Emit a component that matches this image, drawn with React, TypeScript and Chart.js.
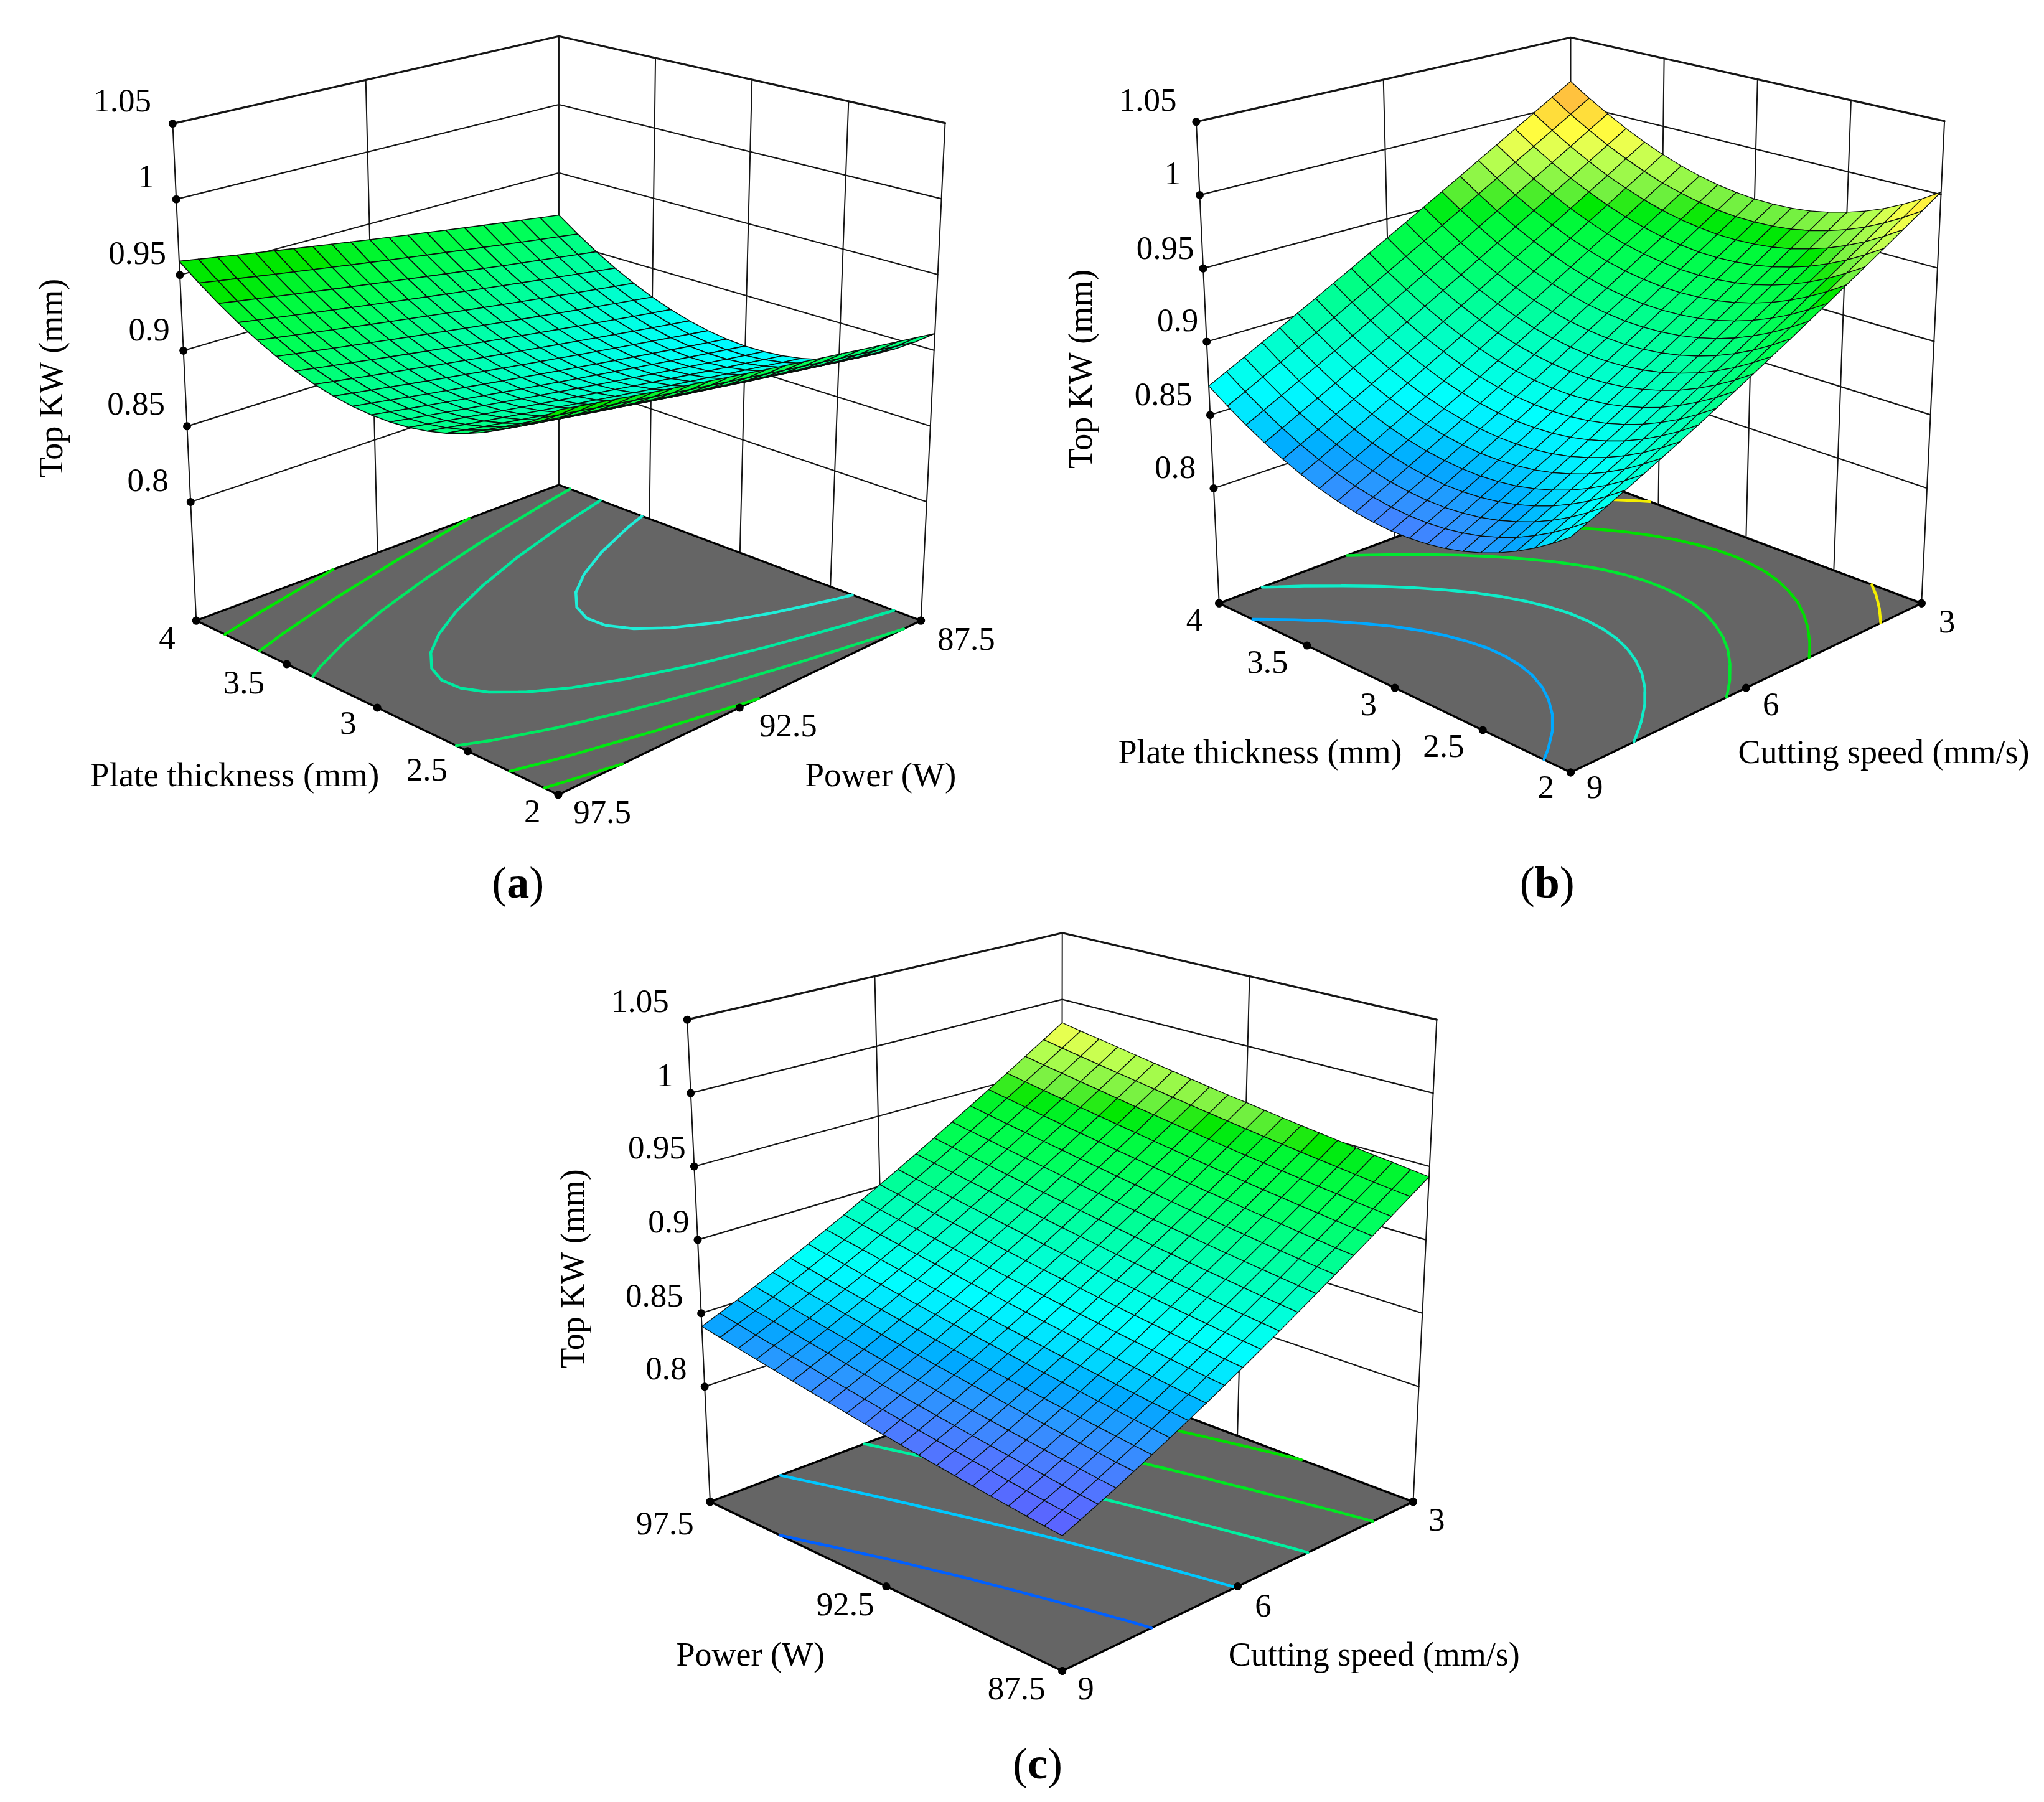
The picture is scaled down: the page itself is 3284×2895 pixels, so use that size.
import React, { useEffect, useRef } from "react";
import { Chart, registerables } from "chart.js";

Chart.register(...registerables);

// ---------- axis ticks ----------
const zTicks = [0.8, 0.85, 0.9, 0.95, 1, 1.05];
const zFloor = 0.7216;
const thicknessTicks = [2, 2.5, 3, 3.5, 4];
const powerTicksDown = [97.5, 92.5, 87.5];
const powerTicksUp = [87.5, 92.5, 97.5];
const speedTicks = [9, 6, 3];

// ---------- surface heights, in 1e-4 mm (rows: first axis, columns: second axis) ----------
const surfaceA = [
[9511,9491,9471,9451,9431,9411,9391,9371,9351,9331,9311,9291,9271,9251,9231,9211,9191,9171,9151,9131,9111],
[9420,9400,9380,9360,9340,9320,9300,9280,9260,9240,9220,9200,9180,9160,9140,9120,9100,9080,9060,9040,9020],
[9339,9319,9299,9279,9259,9239,9219,9199,9179,9159,9139,9119,9099,9079,9059,9039,9019,8999,8979,8959,8939],
[9268,9248,9228,9208,9188,9168,9148,9128,9108,9088,9068,9048,9028,9008,8988,8968,8948,8928,8908,8888,8868],
[9207,9187,9167,9147,9127,9107,9087,9067,9047,9027,9007,8987,8967,8947,8927,8907,8887,8867,8847,8827,8807],
[9156,9136,9116,9096,9076,9056,9036,9016,8996,8976,8956,8936,8916,8896,8876,8856,8836,8816,8796,8776,8756],
[9115,9095,9075,9055,9035,9015,8995,8975,8955,8935,8915,8895,8875,8855,8835,8815,8795,8775,8755,8735,8715],
[9084,9064,9044,9024,9004,8984,8964,8944,8924,8904,8884,8864,8844,8824,8804,8784,8764,8744,8724,8704,8684],
[9063,9043,9023,9003,8983,8963,8943,8923,8903,8883,8863,8843,8823,8803,8783,8763,8743,8723,8703,8683,8663],
[9052,9032,9012,8992,8972,8952,8932,8912,8892,8872,8852,8832,8812,8792,8772,8752,8732,8712,8692,8672,8652],
[9051,9031,9011,8991,8971,8951,8931,8911,8891,8871,8851,8831,8811,8791,8771,8751,8731,8711,8691,8671,8651],
[9060,9040,9020,9000,8980,8960,8940,8920,8900,8880,8860,8840,8820,8800,8780,8760,8740,8720,8700,8680,8660],
[9079,9059,9039,9019,8999,8979,8959,8939,8919,8899,8879,8859,8839,8819,8799,8779,8759,8739,8719,8699,8679],
[9108,9088,9068,9048,9028,9008,8988,8968,8948,8928,8908,8888,8868,8848,8828,8808,8788,8768,8748,8728,8708],
[9147,9127,9107,9087,9067,9047,9027,9007,8987,8967,8947,8927,8907,8887,8867,8847,8827,8807,8787,8767,8747],
[9196,9176,9156,9136,9116,9096,9076,9056,9036,9016,8996,8976,8956,8936,8916,8896,8876,8856,8836,8816,8796],
[9255,9235,9215,9195,9175,9155,9135,9115,9095,9075,9055,9035,9015,8995,8975,8955,8935,8915,8895,8875,8855],
[9324,9304,9284,9264,9244,9224,9204,9184,9164,9144,9124,9104,9084,9064,9044,9024,9004,8984,8964,8944,8924],
[9403,9383,9363,9343,9323,9303,9283,9263,9243,9223,9203,9183,9163,9143,9123,9103,9083,9063,9043,9023,9003],
[9492,9472,9452,9432,9412,9392,9372,9352,9332,9312,9292,9272,9252,9232,9212,9192,9172,9152,9132,9112,9092],
[9591,9571,9551,9531,9511,9491,9471,9451,9431,9411,9391,9371,9351,9331,9311,9291,9271,9251,9231,9211,9191],
];
const surfaceB = [
[8662,8712,8763,8817,8872,8929,8988,9049,9112,9177,9244,9313,9383,9456,9530,9607,9685,9765,9847,9931,10017],
[8579,8630,8681,8736,8791,8849,8908,8969,9033,9098,9165,9235,9305,9378,9452,9529,9608,9688,9770,9854,9940],
[8504,8555,8607,8662,8718,8776,8836,8898,8961,9027,9095,9164,9235,9308,9382,9460,9538,9618,9700,9785,9871],
[8438,8490,8542,8598,8654,8713,8773,8835,8899,8965,9033,9103,9173,9247,9322,9399,9478,9558,9640,9724,9810],
[8381,8433,8486,8542,8599,8658,8719,8781,8846,8912,8980,9050,9121,9195,9270,9347,9426,9506,9589,9673,9759],
[8334,8387,8441,8497,8554,8614,8675,8738,8802,8869,8938,9008,9079,9153,9228,9306,9385,9465,9548,9632,9718],
[8295,8348,8403,8460,8517,8577,8638,8702,8767,8834,8903,8973,9045,9119,9194,9272,9351,9432,9514,9599,9685],
[8265,8319,8374,8431,8489,8550,8611,8675,8741,8808,8877,8948,9020,9094,9169,9247,9327,9407,9490,9574,9660],
[8245,8299,8355,8413,8471,8532,8594,8658,8724,8792,8861,8932,9004,9079,9155,9233,9312,9393,9476,9560,9646],
[8233,8288,8344,8402,8461,8523,8585,8650,8716,8784,8854,8925,8997,9072,9148,9226,9306,9386,9469,9554,9640],
[8230,8286,8342,8401,8461,8522,8585,8650,8717,8785,8855,8927,8999,9074,9150,9229,9308,9389,9472,9557,9643],
[8237,8293,8350,8410,8470,8532,8595,8660,8727,8796,8866,8938,9011,9086,9162,9241,9321,9402,9485,9569,9655],
[8252,8309,8366,8426,8487,8549,8613,8679,8746,8815,8886,8958,9031,9106,9182,9261,9341,9422,9505,9590,9676],
[8276,8333,8391,8452,8513,8576,8640,8706,8773,8843,8914,8986,9059,9135,9212,9291,9371,9452,9535,9620,9706],
[8309,8367,8425,8486,8548,8611,8676,8742,8810,8880,8951,9024,9097,9173,9250,9329,9409,9490,9574,9658,9744],
[8352,8410,8470,8531,8593,8657,8722,8789,8857,8927,8999,9071,9145,9221,9298,9377,9458,9539,9623,9707,9793],
[8403,8462,8522,8584,8646,8710,8775,8843,8911,8982,9054,9127,9201,9277,9354,9434,9514,9596,9679,9764,9850],
[8463,8522,8583,8645,8708,8773,8838,8906,8975,9046,9118,9191,9266,9342,9419,9499,9580,9661,9745,9830,9916],
[8533,8593,8654,8717,8780,8845,8911,8979,9049,9120,9192,9266,9340,9417,9495,9574,9655,9737,9821,9906,9992],
[8611,8671,8733,8796,8860,8926,8992,9061,9130,9202,9275,9348,9423,9500,9578,9658,9739,9820,9904,9989,10075],
[8698,8759,8821,8885,8949,9015,9082,9151,9221,9293,9366,9440,9515,9592,9670,9750,9831,9913,9997,10082,10168],
];
const surfaceC = [
[8050,8099,8149,8202,8258,8315,8374,8436,8499,8565,8633,8703,8775,8850,8926,9005,9086,9168,9254,9341,9430],
[8062,8111,8161,8214,8270,8327,8387,8449,8512,8578,8646,8716,8788,8863,8939,9018,9099,9182,9268,9355,9444],
[8075,8124,8174,8228,8284,8341,8400,8462,8525,8592,8660,8730,8802,8877,8954,9033,9114,9196,9282,9369,9459],
[8089,8138,8189,8242,8298,8355,8415,8477,8540,8606,8675,8745,8817,8892,8969,9048,9129,9212,9298,9385,9474],
[8103,8152,8203,8256,8312,8370,8429,8491,8555,8621,8690,8760,8832,8908,8984,9063,9145,9227,9313,9401,9490],
[8118,8168,8218,8271,8328,8385,8445,8507,8571,8637,8706,8776,8848,8924,9000,9080,9161,9244,9330,9417,9507],
[8133,8183,8233,8287,8343,8401,8460,8523,8586,8653,8721,8792,8864,8940,9017,9096,9177,9260,9347,9434,9524],
[8149,8199,8249,8303,8359,8417,8477,8539,8603,8670,8738,8809,8881,8957,9034,9113,9195,9278,9364,9452,9541],
[8165,8215,8266,8319,8376,8434,8493,8556,8620,8686,8755,8826,8898,8974,9051,9130,9212,9295,9382,9469,9559],
[8182,8232,8283,8336,8393,8451,8511,8573,8637,8704,8773,8844,8916,8992,9069,9149,9231,9314,9400,9488,9578],
[8200,8250,8301,8355,8412,8470,8530,8592,8656,8723,8792,8863,8936,9012,9089,9168,9250,9333,9420,9508,9598],
[8218,8268,8319,8373,8430,8488,8548,8611,8675,8742,8811,8881,8955,9031,9108,9187,9269,9353,9440,9527,9617],
[8237,8287,8338,8392,8449,8507,8568,8630,8694,8762,8831,8901,8975,9051,9128,9208,9290,9373,9460,9548,9638],
[8257,8307,8359,8412,8470,8528,8588,8651,8715,8782,8852,8922,8996,9072,9149,9229,9311,9395,9482,9569,9660],
[8277,8327,8379,8433,8490,8548,8609,8671,8736,8803,8873,8943,9017,9093,9171,9250,9333,9416,9503,9591,9682],
[8298,8349,8400,8454,8511,8570,8630,8693,8758,8825,8895,8965,9039,9115,9193,9273,9355,9439,9526,9614,9704],
[8319,8370,8421,8475,8533,8591,8652,8715,8779,8847,8916,8987,9061,9137,9215,9295,9377,9461,9549,9636,9727],
[8341,8392,8443,8497,8555,8614,8674,8737,8802,8870,8939,9010,9084,9161,9238,9318,9401,9485,9572,9660,9751],
[8363,8414,8466,8520,8577,8636,8697,8760,8825,8892,8962,9033,9107,9184,9262,9341,9424,9508,9596,9684,9775],
[8386,8437,8489,8543,8601,8660,8720,8783,8848,8916,8986,9057,9131,9208,9286,9366,9449,9533,9620,9708,9799],
[8410,8461,8513,8567,8625,8684,8745,8808,8873,8941,9011,9082,9156,9233,9311,9391,9474,9558,9646,9734,9825],
];

// ---------- contour levels on the floor (mm) ----------
const contourLevelsA = [0.944, 0.929, 0.913, 0.898, 0.882];
const contourLevelsB = [0.854, 0.885, 0.917, 0.95, 0.982];
const contourLevelsC = [0.832, 0.8625, 0.8926, 0.9228, 0.953];
const contourColorsA = ["#00e800", "#00ea10", "#00e860", "#00eaa0", "#20eed8"];
const contourColorsB = ["#00a8ff", "#10ecc8", "#00e830", "#00e000", "#f4ee00"];
const contourColorsC = ["#0060ff", "#00c8ff", "#00f0a0", "#00e820", "#00e000"];

// ---------- colour ramp of the surface (height, colour) ----------
const rampHeights = [0.8, 0.82, 0.835, 0.845, 0.855, 0.868, 0.89, 0.91, 0.93, 0.945, 0.95, 0.953, 0.96, 0.975, 0.983, 0.99, 1.003, 1.017];
const rampColours = [[96,88,255],[80,120,255],[40,152,255],[0,168,255],[0,216,255],[0,255,255],[0,255,200],[0,255,144],[0,255,88],[0,250,56],[0,240,32],[0,232,0],[112,240,64],[184,255,80],[232,255,80],[255,255,64],[255,208,56],[255,168,72]];

function surfaceColour(z: number) {
  const n = rampHeights.length;
  if (z <= rampHeights[0]) return `rgb(${rampColours[0].join(",")})`;
  if (z >= rampHeights[n - 1]) return `rgb(${rampColours[n - 1].join(",")})`;
  let k = 0;
  while (z > rampHeights[k + 1]) k++;
  const t = (z - rampHeights[k]) / (rampHeights[k + 1] - rampHeights[k]);
  const c = rampColours[k].map((a, i) => Math.round(a + (rampColours[k + 1][i] - a) * t));
  return `rgb(${c.join(",")})`;
}

type Pt = [number, number];
type Panel = {
  floor: Pt[]; // front, left, back, right
  top: Pt[];
  surface: number[][];
  levels: number[];
  levelColours: string[];
  colourShift: number;
  colourMax: number;
  meshWidth: number;
  uTicks: number[];
  vTicks: number[];
  texts: { t: string; x: number; y: number; size?: number; rot?: boolean }[];
  tag: { t: string; x: number; y: number };
};

const LABEL = 54;
const panels: Panel[] = [
  {
    floor: [[894, 1276], [310, 995], [895, 776], [1479, 995]],
    top: [[897, 387], [272, 193], [895, 52], [1518, 192]],
    surface: surfaceA,
    levels: contourLevelsA,
    levelColours: contourColorsA,
    colourShift: 0.012,
    colourMax: 0.953,
    meshWidth: 1.6,
    uTicks: thicknessTicks,
    vTicks: powerTicksDown,
    texts: [
      { t: "1.05", x: 191, y: 156 }, { t: "1", x: 229, y: 279 }, { t: "0.95", x: 215, y: 402 },
      { t: "0.9", x: 234, y: 526 }, { t: "0.85", x: 213, y: 645 }, { t: "0.8", x: 232, y: 769 },
      { t: "Top KW (mm)", x: 80, y: 601, size: LABEL, rot: true },
      { t: "4", x: 263, y: 1023 }, { t: "3.5", x: 387, y: 1096 }, { t: "3", x: 555, y: 1161 },
      { t: "2.5", x: 682, y: 1236 }, { t: "2", x: 852, y: 1303 }, { t: "97.5", x: 965, y: 1304 },
      { t: "92.5", x: 1265, y: 1165 }, { t: "87.5", x: 1552, y: 1025 },
      { t: "Plate thickness (mm)", x: 372, y: 1245, size: 55 }, { t: "Power (W)", x: 1414, y: 1245, size: 55 },
    ],
    tag: { t: "a", x: 829, y: 1420 },
  },
  {
    floor: [[2527, 1240], [1960, 967], [2527, 755], [3093, 967]],
    top: [[2527, 378], [1923, 190], [2527, 54], [3130, 189]],
    surface: surfaceB,
    levels: contourLevelsB,
    levelColours: contourColorsB,
    colourShift: 0,
    colourMax: 2,
    meshWidth: 1.3,
    uTicks: thicknessTicks,
    vTicks: speedTicks,
    texts: [
      { t: "1.05", x: 1845, y: 155 }, { t: "1", x: 1885, y: 274 }, { t: "0.95", x: 1873, y: 394 },
      { t: "0.9", x: 1893, y: 511 }, { t: "0.85", x: 1870, y: 630 }, { t: "0.8", x: 1889, y: 748 },
      { t: "Top KW (mm)", x: 1740, y: 586, size: LABEL, rot: true },
      { t: "4", x: 1920, y: 994 }, { t: "3.5", x: 2038, y: 1062 }, { t: "3", x: 2201, y: 1131 },
      { t: "2.5", x: 2322, y: 1198 }, { t: "2", x: 2487, y: 1264 }, { t: "9", x: 2566, y: 1264 },
      { t: "6", x: 2850, y: 1131 }, { t: "3", x: 3134, y: 997 },
      { t: "Plate thickness (mm)", x: 2026, y: 1208, size: LABEL }, { t: "Cutting speed (mm/s)", x: 3032, y: 1208, size: LABEL },
    ],
    tag: { t: "b", x: 2489, y: 1420 },
  },
  {
    floor: [[1707, 2690], [1139, 2417], [1706, 2204], [2273, 2417]],
    top: [[1707, 1831], [1102, 1639], [1707, 1499], [2311, 1639]],
    surface: surfaceC,
    levels: contourLevelsC,
    levelColours: contourColorsC,
    colourShift: 0.006,
    colourMax: 2,
    meshWidth: 1.3,
    uTicks: powerTicksUp,
    vTicks: speedTicks,
    texts: [
      { t: "1.05", x: 1026, y: 1610 }, { t: "1", x: 1066, y: 1729 }, { t: "0.95", x: 1053, y: 1846 },
      { t: "0.9", x: 1072, y: 1965 }, { t: "0.85", x: 1049, y: 2085 }, { t: "0.8", x: 1068, y: 2202 },
      { t: "Top KW (mm)", x: 921, y: 2038, size: LABEL, rot: true },
      { t: "97.5", x: 1066, y: 2453 }, { t: "92.5", x: 1357, y: 2583 }, { t: "87.5", x: 1633, y: 2719 },
      { t: "9", x: 1745, y: 2719 }, { t: "6", x: 2031, y: 2585 }, { t: "3", x: 2311, y: 2447 },
      { t: "Power (W)", x: 1204, y: 2664, size: LABEL }, { t: "Cutting speed (mm/s)", x: 2210, y: 2664, size: LABEL },
    ],
    tag: { t: "c", x: 1667, y: 2842 },
  },
];

// unit square -> quadrilateral: the picture's ticks sit evenly along each edge
function makeMap(q: Pt[]) {
  const [a, b, c, d] = q;
  return (u: number, v: number): Pt => [
    (1 - u) * (1 - v) * a[0] + u * (1 - v) * b[0] + u * v * c[0] + (1 - u) * v * d[0],
    (1 - u) * (1 - v) * a[1] + u * (1 - v) * b[1] + u * v * c[1] + (1 - u) * v * d[1],
  ];
}

function makeProjector(p: Panel) {
  const hf = makeMap(p.floor);
  const ht = makeMap(p.top);
  const zTop = zTicks[zTicks.length - 1];
  return (u: number, v: number, z: number) => {
    const t = (z - zFloor) / (zTop - zFloor);
    const [ax, ay] = hf(u, v);
    const [bx, by] = ht(u, v);
    return { x: ax + (bx - ax) * t, y: ay + (by - ay) * t };
  };
}

const norm = (ticks: number[]) => ticks.map((t) => (t - ticks[0]) / (ticks[ticks.length - 1] - ticks[0]));

function contourSegments(table: number[][], level: number) {
  const segs: [Pt, Pt][] = [];
  const n = table.length - 1;
  const m = table[0].length - 1;
  for (let i = 0; i < n; i++) {
    for (let j = 0; j < m; j++) {
      const z = [table[i][j] / 1e4, table[i + 1][j] / 1e4, table[i + 1][j + 1] / 1e4, table[i][j + 1] / 1e4];
      const c: Pt[] = [[i, j], [i + 1, j], [i + 1, j + 1], [i, j + 1]];
      const hits: Pt[] = [];
      for (let k = 0; k < 4; k++) {
        const a = z[k], b = z[(k + 1) % 4];
        if ((a < level) !== (b < level)) {
          const t = (level - a) / (b - a);
          const pa = c[k], pb = c[(k + 1) % 4];
          hits.push([(pa[0] + (pb[0] - pa[0]) * t) / n, (pa[1] + (pb[1] - pa[1]) * t) / m]);
        }
      }
      if (hits.length >= 2) segs.push([hits[0], hits[1]]);
      if (hits.length === 4) segs.push([hits[2], hits[3]]);
    }
  }
  return segs;
}

function buildDatasets() {
  const out: any[] = [];
  const add = (ds: any) => {
    out.push({
      showLine: true, pointRadius: 0, borderWidth: 2, borderColor: "#151515", fill: false, tension: 0,
      borderJoinStyle: "round", borderCapStyle: "round", clip: false, ...ds, order: 1000000 - out.length,
    });
  };
  for (const p of panels) {
    const P = makeProjector(p);
    const us = norm(p.uTicks), vs = norm(p.vTicks);
    const zTop = zTicks[zTicks.length - 1];
    // walls
    for (const z of zTicks) {
      add({ label: "wall", data: [P(1, 0, z), P(1, 1, z), P(0, 1, z)], borderWidth: z === zTop ? 3.2 : 2.2 });
    }
    for (const v of vs) {
      if (v > 0 && v < 1) add({ label: "wall", data: [P(1, v, zFloor), P(1, v, zTop)] });
    }
    for (const u of us) {
      if (u > 0 && u < 1) add({ label: "wall", data: [P(u, 1, zFloor), P(u, 1, zTop)] });
    }
    add({ label: "edge", data: [P(1, 0, zFloor), P(1, 0, zTop)] });
    add({ label: "edge", data: [P(1, 1, zFloor), P(1, 1, zTop)] });
    add({ label: "edge", data: [P(0, 1, zFloor), P(0, 1, zTop)] });
    // floor
    add({
      label: "floor",
      data: [P(0, 0, zFloor), P(1, 0, zFloor), P(1, 1, zFloor), P(0, 1, zFloor), P(0, 0, zFloor)],
      polyFill: "#656565", borderWidth: 3.4, borderColor: "#000",
    });
    // contours
    p.levels.forEach((lv, k) => {
      const data: any[] = [];
      for (const [a, b] of contourSegments(p.surface, lv)) {
        data.push(P(a[0], a[1], zFloor), P(b[0], b[1], zFloor), { x: NaN, y: NaN });
      }
      add({ label: "contour " + lv, data, borderColor: p.levelColours[k], borderWidth: 4.5, spanGaps: false });
    });
    // surface, far cells first
    const n = p.surface.length - 1, m = p.surface[0].length - 1;
    const cells: [number, number][] = [];
    for (let i = 0; i < n; i++) for (let j = 0; j < m; j++) cells.push([i, j]);
    cells.sort((a, b) => b[0] + b[1] - (a[0] + a[1]));
    for (const [i, j] of cells) {
      const Z = p.surface;
      const z00 = Z[i][j] / 1e4, z10 = Z[i + 1][j] / 1e4, z11 = Z[i + 1][j + 1] / 1e4, z01 = Z[i][j + 1] / 1e4;
      const a = P(i / n, j / m, z00);
      const mean = (z00 + z10 + z11 + z01) / 4;
      const lift = p.colourShift * Math.max(0, Math.min(1, (mean - 0.875) / 0.05));
      add({
        label: "cell",
        data: [a, P((i + 1) / n, j / m, z10), P((i + 1) / n, (j + 1) / m, z11), P(i / n, (j + 1) / m, z01), a],
        polyFill: surfaceColour(Math.min(p.colourMax, mean + lift)),
        borderWidth: p.meshWidth,
        borderColor: "#0a100c",
      });
    }
    // tick dots
    const dots: any[] = [];
    for (const z of zTicks) dots.push(P(1, 0, z));
    for (const u of us) dots.push(P(u, 0, zFloor));
    for (const v of vs) dots.push(P(0, v, zFloor));
    dots.push(P(1, 0, zFloor), P(0, 1, zFloor));
    add({ label: "ticks", data: dots, showLine: false, pointRadius: 6.5, pointBackgroundColor: "#000", pointBorderWidth: 0 });
  }
  return out;
}

const polygonPlugin = {
  id: "polygonFill",
  beforeDatasetDraw(chart: any, args: any) {
    const ds = chart.data.datasets[args.index];
    if (!ds.polyFill) return;
    const pts = args.meta.data;
    const ctx = chart.ctx;
    ctx.save();
    ctx.beginPath();
    pts.forEach((pt: any, i: number) => (i ? ctx.lineTo(pt.x, pt.y) : ctx.moveTo(pt.x, pt.y)));
    ctx.closePath();
    ctx.fillStyle = ds.polyFill;
    ctx.fill();
    ctx.restore();
  },
};

const textPlugin = {
  id: "panelText",
  afterDraw(chart: any) {
    const ctx = chart.ctx;
    const X = chart.scales.x, Y = chart.scales.y;
    ctx.save();
    ctx.fillStyle = "#000";
    ctx.textBaseline = "middle";
    ctx.textAlign = "center";
    for (const p of panels) {
      for (const tx of p.texts) {
        ctx.font = `${tx.size ?? 53}px "Liberation Serif"`;
        const px = X.getPixelForValue(tx.x), py = Y.getPixelForValue(tx.y + 3);
        if (tx.rot) {
          ctx.save();
          ctx.translate(px, py);
          ctx.rotate(-Math.PI / 2);
          ctx.fillText(tx.t, 0, 0);
          ctx.restore();
        } else ctx.fillText(tx.t, px, py);
      }
      // panel tag: plain brackets, bold letter
      const size = 72;
      const plain = `${size}px "Liberation Serif"`;
      const bold = `bold ${size}px "Liberation Serif"`;
      ctx.font = plain;
      const w0 = ctx.measureText("(").width;
      ctx.font = bold;
      const w1 = ctx.measureText(p.tag.t).width;
      const left = X.getPixelForValue(p.tag.x) - (2 * w0 + w1) / 2;
      const py = Y.getPixelForValue(p.tag.y + 3);
      ctx.textAlign = "left";
      ctx.font = plain;
      ctx.fillText("(", left, py);
      ctx.fillText(")", left + w0 + w1, py);
      ctx.font = bold;
      ctx.fillText(p.tag.t, left + w0, py);
      ctx.textAlign = "center";
    }
    ctx.restore();
  },
};

export default function App() {
  const ref = useRef<HTMLCanvasElement | null>(null);
  useEffect(() => {
    const chart = new Chart(ref.current as HTMLCanvasElement, {
      type: "scatter",
      data: { datasets: buildDatasets() },
      options: {
        animation: false,
        responsive: false,
        devicePixelRatio: 1,
        events: [],
        layout: { padding: 0 },
        plugins: { legend: { display: false }, tooltip: { enabled: false }, title: { display: false } },
        scales: {
          x: { type: "linear", min: 0, max: 3284, display: false },
          y: { type: "linear", min: 0, max: 2895, reverse: true, display: false },
        },
      },
      plugins: [polygonPlugin, textPlugin],
    } as any);
    return () => chart.destroy();
  }, []);
  return (
    <div style={{ position: "absolute", left: 0, top: 0, width: 3284, height: 2895, background: "#fff" }}>
      <canvas ref={ref} width={3284} height={2895} style={{ display: "block" }} />
    </div>
  );
}
